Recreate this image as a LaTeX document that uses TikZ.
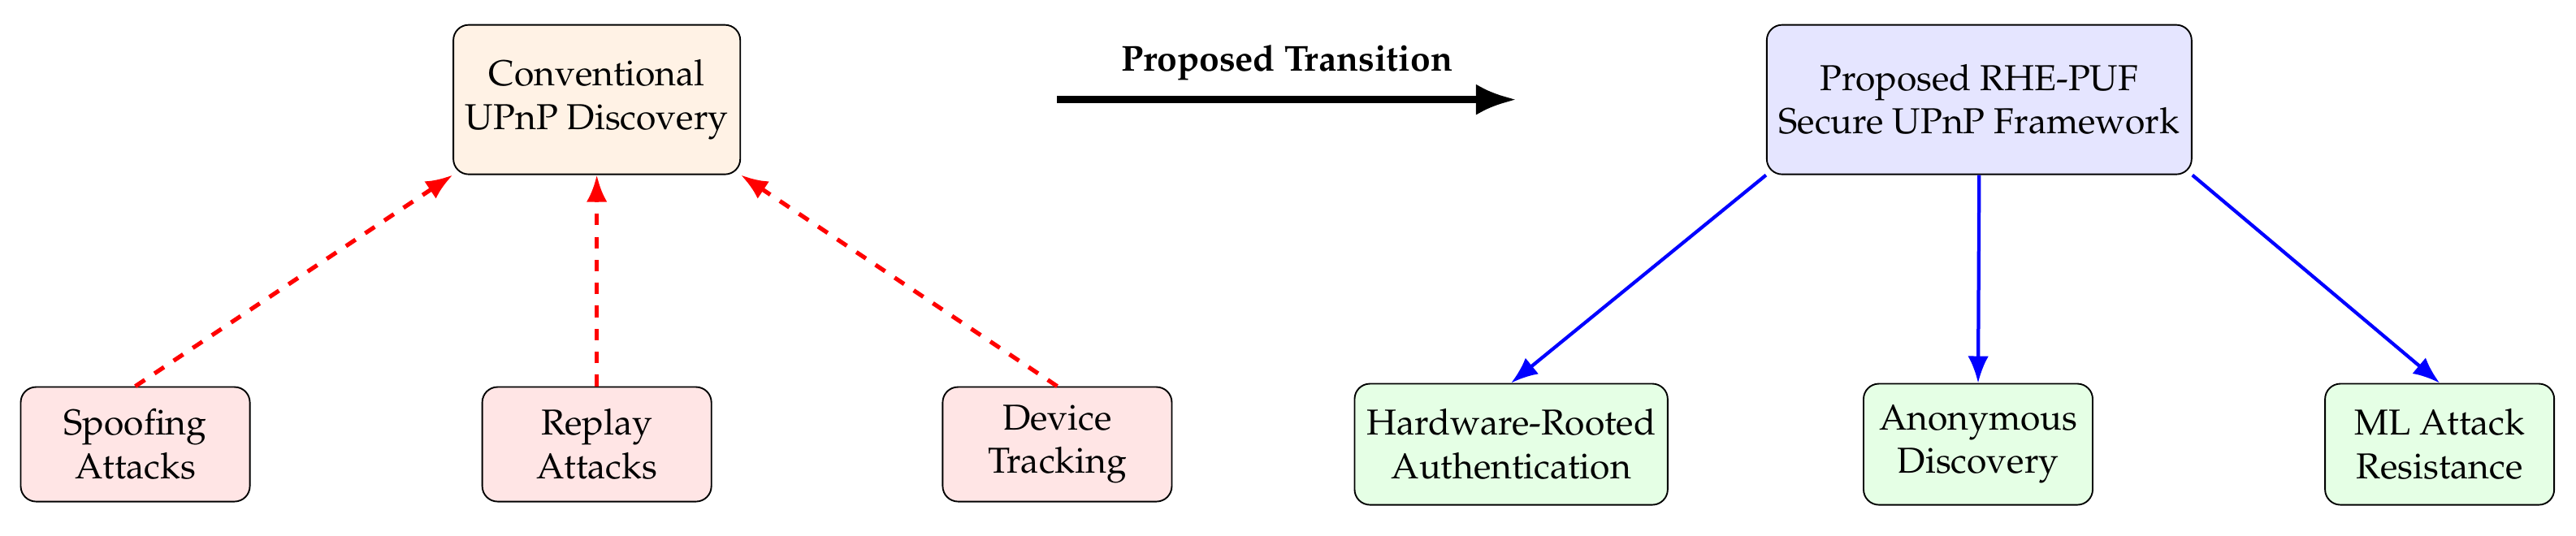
\documentclass[tikz,border=0pt]{standalone}
\usepackage[T1]{fontenc}
\usepackage{mathpazo}
\usetikzlibrary{arrows.meta}
\begin{document}
\fontsize{9.4}{11.3}\selectfont
\begin{tikzpicture}[
  oldbox/.style={draw, rounded corners, fill=orange!10, align=center, minimum height=1.37cm},
  newbox/.style={draw, rounded corners, fill=blue!10, align=center, minimum height=1.37cm},
  threat/.style={draw, rounded corners, fill=red!10, align=center, minimum width=2.1cm, minimum height=1.05cm},
  gain/.style={draw, rounded corners, fill=green!10, align=center, minimum width=2.1cm, minimum height=1.11cm},
  attackline/.style={draw=red, line width=1.1pt, dashed, -{Latex[length=7pt,width=5.4pt]}},
  gainline/.style={draw=blue, line width=0.9pt, -{Latex[length=7pt,width=5.4pt]}}
]
\useasboundingbox (0,-3.994) rectangle (23.61,0.913);

% left: today
\node[oldbox] (conv) at (5.47,0) {Conventional\\UPnP Discovery};
\node[threat] (spoof) at (1.24,-3.16) {Spoofing\\Attacks};
\node[threat] (replay) at (5.47,-3.16) {Replay\\Attacks};
\node[threat] (track) at (9.69,-3.16) {Device\\Tracking};

\path[attackline] (spoof.north) -- (conv.south west);
\path[attackline] (replay.north) -- (conv.south);
\path[attackline] (track.north) -- (conv.south east);

% the step over
\coordinate (from) at (9.69,0);
\coordinate (to) at (13.90,0);
\draw[line width=1.9pt, -{Latex[length=10.6pt,width=8.1pt]}] (from) -- node[above=1pt] {\textbf{Proposed Transition}} (to);

% right: RHE-PUF
\node[newbox] (prop) at (18.14,0) {Proposed RHE-PUF\\Secure UPnP Framework};
\node[gain] (hw) at (13.85,-3.16) {Hardware-Rooted\\Authentication};
\node[gain] (anon) at (18.13,-3.16) {Anonymous\\Discovery};
\node[gain] (ml) at (22.36,-3.16) {ML Attack\\Resistance};

\path[gainline] (prop.south west) -- (hw.north);
\path[gainline] (prop.south) -- (anon.north);
\path[gainline] (prop.south east) -- (ml.north);
\end{tikzpicture}
\end{document}
